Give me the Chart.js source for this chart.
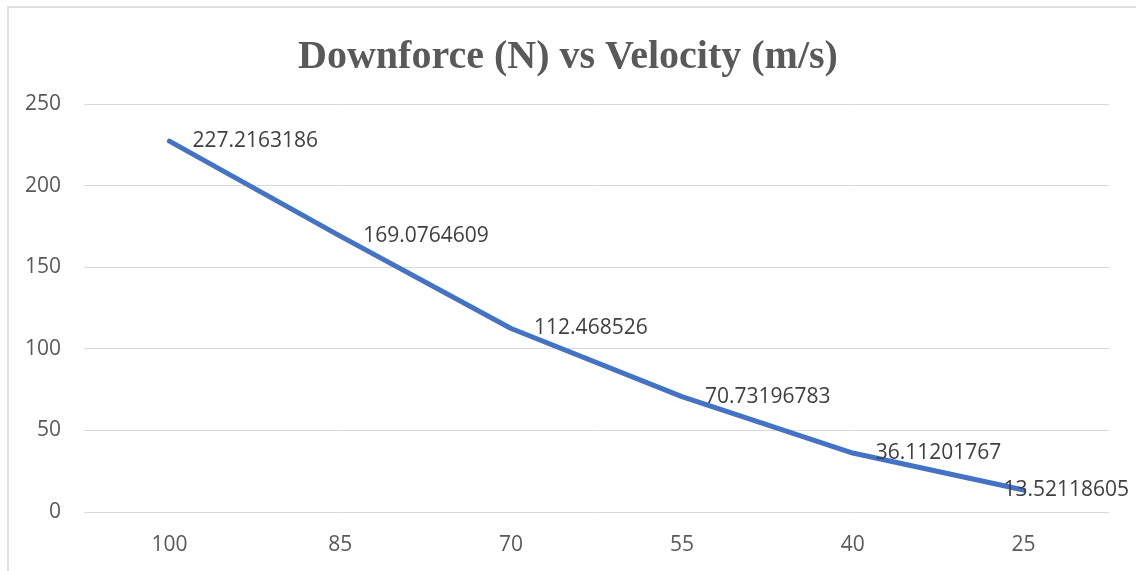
<!DOCTYPE html>
<html>
<head>
<meta charset="utf-8">
<script src="https://cdn.jsdelivr.net/npm/chart.js"></script>
<style>
  html, body { margin: 0; padding: 0; background: #fff; overflow: hidden; }
  #frame { position: absolute; left: 7px; top: 6px; width: 1200px; height: 600px; border: 2px solid #e0e0e0; }
  #wrap { position: absolute; left: 0; top: 0; width: 1136px; height: 571px; }
</style>
</head>
<body>
<div id="frame"></div>
<div id="wrap"><canvas id="chart"></canvas></div>
<script>
const velocities = ["100", "85", "70", "55", "40", "25"];
const downforce = [227.2163186, 169.0764609, 112.468526, 70.73196783, 36.11201767, 13.52118605];
const yTicks = [0, 50, 100, 150, 200, 250];

// value labels to the right of each point, like Excel's "Right" position
const pointLabels = {
  id: "pointLabels",
  afterDatasetsDraw(chart) {
    const ctx = chart.ctx;
    const meta = chart.getDatasetMeta(0);
    ctx.save();
    ctx.font = "21px 'Open Sans'";
    ctx.fillStyle = "#404040";
    ctx.textAlign = "left";
    ctx.textBaseline = "middle";
    meta.data.forEach((pt, i) => {
      const txt = String(downforce[i]);
      const w = ctx.measureText(txt).width;
      const x = Math.min(pt.x + 23, chart.width - 7 - w);
      ctx.fillText(txt, x, pt.y);
    });
    ctx.restore();
  }
};

const ctx = document.getElementById("chart").getContext("2d");
const myChart = new Chart(ctx, {
  type: "line",
  data: {
    labels: velocities,
    datasets: [
      {
        data: downforce,
        borderColor: "#4472c4",
        borderWidth: 5,
        borderCapStyle: "round",
        borderJoinStyle: "round",
        pointRadius: 0,
        fill: false,
        tension: 0
      }
    ]
  },
  options: {
    responsive: true,
    maintainAspectRatio: false,
    animation: false,
    layout: { padding: 0 },
    plugins: {
      legend: { display: false },
      tooltip: { enabled: false },
      title: {
        display: true,
        text: "Downforce (N) vs Velocity (m/s)",
        color: "#595959",
        font: { family: "'Liberation Serif'", size: 40, weight: "bold", lineHeight: 1.2 },
        padding: { top: 34, bottom: 22 }
      }
    },
    scales: {
      x: {
        offset: true,
        grid: { display: false },
        border: { display: false },
        ticks: { color: "#595959", font: { family: "'Open Sans'", size: 21 }, padding: 12 },
        afterFit: (s) => { s.height = 59; }
      },
      y: {
        min: 0,
        max: 250,
        afterBuildTicks: (s) => { s.ticks = yTicks.map(v => ({ value: v })); },
        grid: { color: "#d9d9d9", lineWidth: 1, drawTicks: false },
        border: { display: false },
        ticks: { color: "#595959", font: { family: "'Open Sans'", size: 21 }, padding: 23 },
        afterFit: (s) => { s.width = 84; }
      },
      // empty right-hand box, only to leave the margin Excel keeps on the right
      yPad: {
        position: "right",
        grid: { display: false },
        border: { display: false },
        ticks: { display: false },
        afterFit: (s) => { s.width = 27; }
      }
    }
  },
  plugins: [pointLabels]
});
</script>
</body>
</html>
